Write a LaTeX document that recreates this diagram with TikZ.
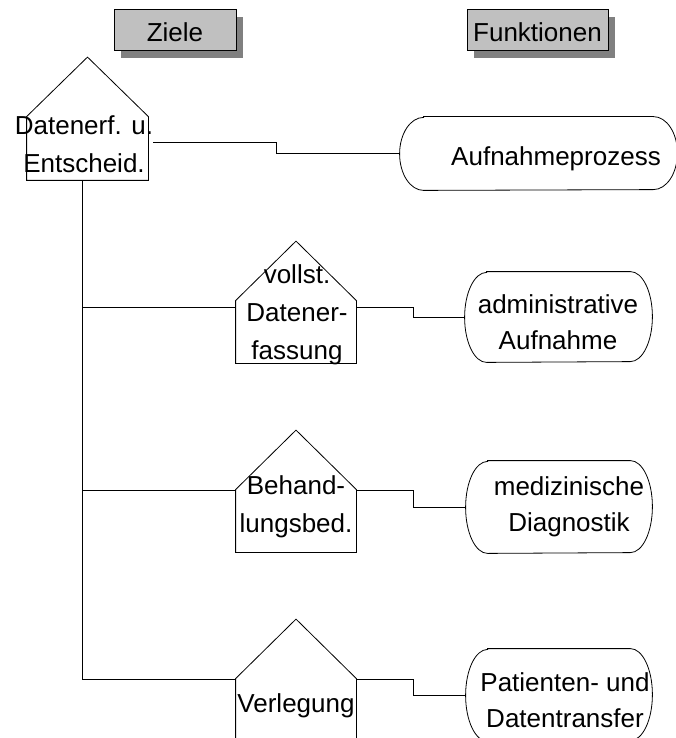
\documentclass[tikz,border=0pt]{standalone}
\usepackage{fontspec}
\setmainfont{Liberation Sans}
\usetikzlibrary{shadows}
\definecolor{headfill}{HTML}{C0C0C0}
\definecolor{headshade}{HTML}{808080}
\newcommand{\housefont}{\fontsize{26pt}{38pt}\selectfont}
\newcommand{\funcfont}{\fontsize{26pt}{36pt}\selectfont}
\begin{document}
\begin{tikzpicture}[x=1pt, y=-1pt, line width=0.8pt,
  header/.style={draw=black, fill=headfill, inner sep=0pt,
    minimum width=122pt, minimum height=41pt,
    text height=25pt, text depth=0pt, font=\funcfont,
    drop shadow={shadow xshift=7pt, shadow yshift=-8pt, fill=headshade, opacity=1}},
  housebody/.style={draw=none, inner sep=0pt, minimum width=120pt, minimum height=62pt},
  funcbody/.style={draw=none, inner sep=0pt, minimum width=186pt, minimum height=92pt},
  housetext/.style={font=\housefont, align=center, inner sep=0pt},
  functext/.style={font=\funcfont, align=center, inner sep=0pt},
  outline/.style={draw=black, fill=white, line width=0.8pt},
  link/.style={draw=black, line width=0.8pt}]
\clip (0,0) rectangle (676,738);
\fill[white] (0,0) rectangle (676,738);

% column headings
\node[header] (ziele) at (175,29.5) {Ziele};
\node[header, minimum width=141pt] (funk) at (537.5,29.5) {Funktionen};

% goal houses (bodies only; outlines are drawn below)
\node[housebody, minimum width=121pt, minimum height=63pt] (h1) at (87.5,148.5) {};
\node[housebody] (h2) at (296,332) {};
\node[housebody] (h3) at (296,521) {};
\node[housebody] (h4) at (296,710) {};

% function terminators
\node[funcbody, minimum width=277pt, minimum height=73pt] (s1) at (538.5,153.5) {};
\node[funcbody, minimum width=187pt, minimum height=90pt] (s2) at (558.5,317) {};
\node[funcbody] (s3) at (559,507) {};
\node[funcbody] (s4) at (559,695) {};

% house outlines: roof, walls and floor, no line under the roof
\foreach \h in {h1,h2,h3,h4}
  \draw[outline] (\h.north west) -- ([yshift=59.5pt]\h.north) -- (\h.north east)
    -- (\h.south east) -- (\h.south west) -- cycle;

% terminator outlines with elliptic ends
\foreach \s/\rx/\ry in {s1/24/36.5, s2/22/45, s3/22/46, s4/22/46}
  \draw[outline] ([xshift=\rx pt]\s.north west) -- ([xshift=-\rx pt]\s.north east)
    arc[start angle=-90, end angle=90, x radius=\rx, y radius=\ry]
    -- ([xshift=\rx pt]\s.south west)
    arc[start angle=90, end angle=270, x radius=\rx, y radius=\ry] -- cycle;

% connector anchors
\coordinate (o1) at ([xshift=5pt, yshift=-26pt]h1.north east);
\coordinate (j1) at (276,0);
\coordinate (jx) at (413,0);
\coordinate (trunk) at ([xshift=56pt]h1.south west);
\coordinate (hl2) at ([yshift=-7pt]h2.north west);
\coordinate (hr2) at ([yshift=-7pt]h2.north east);
\coordinate (hl3) at ([yshift=-1pt]h3.north west);
\coordinate (hr3) at ([yshift=-1pt]h3.north east);
\coordinate (hl4) at ([yshift=-1pt]h4.north west);
\coordinate (hr4) at ([yshift=-1pt]h4.north east);

% connectors
\draw[link] (o1) -| (j1 |- s1.west) -- (s1.west);
\draw[link] (trunk) |- (hl4);
\draw[link] (hl2 -| trunk) -- (hl2);
\draw[link] (hl3 -| trunk) -- (hl3);
\foreach \i in {2,3,4}
  \draw[link] (hr\i) -| (jx |- s\i.west) -- (s\i.west);

% labels
\node[housetext] (t1) at (84,144.5) {Datenerf. u.\\Entscheid.};
\node[housetext] (t2) at (297,315) {vollst.\\Datener-\\fassung};
\node[housetext] (t3) at (296,507) {Behand-\\lungsbed.};
\node[housetext] (t4) at (296,706) {Verlegung};
\node[functext] (t5) at (556,159) {Aufnahmeprozess};
\node[functext] (t6) at (558,322) {administrative\\Aufnahme};
\node[functext] (t7) at (569,507) {medizinische\\Diagnostik};
\node[functext] (t8) at (565,700.5) {Patienten- und\\Datentransfer};
\end{tikzpicture}
\end{document}
